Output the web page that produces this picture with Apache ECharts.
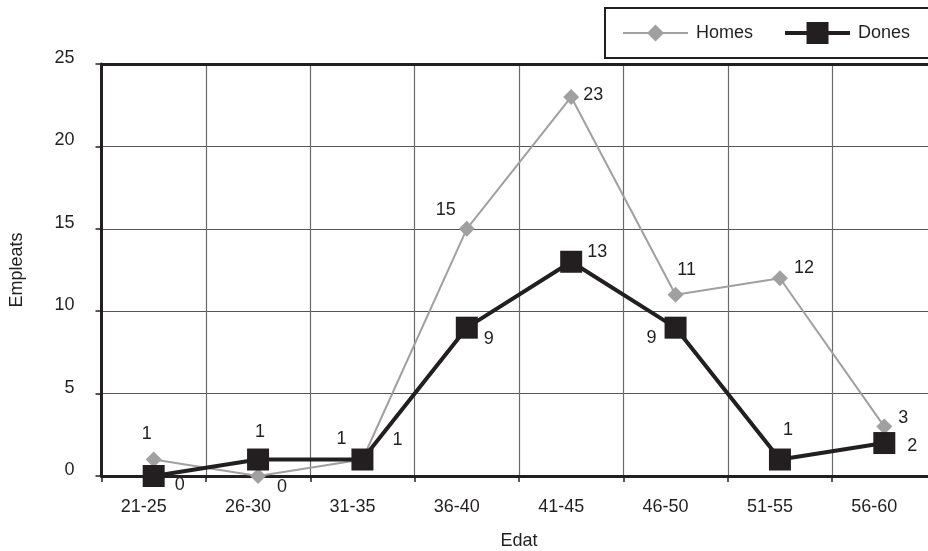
<!DOCTYPE html>
<html>
<head>
<meta charset="utf-8">
<script src="https://cdn.jsdelivr.net/npm/echarts@6/dist/echarts.min.js"></script>
<style>
html,body{margin:0;padding:0;background:#fff;}
#chart{width:928px;height:551px;}
</style>
</head>
<body>
<div id="chart"></div>
<script>
// ---- data ----
var categories = ['21-25', '26-30', '31-35', '36-40', '41-45', '46-50', '51-55', '56-60'];
var homes = [1, 0, 1, 15, 23, 11, 12, 3];
var dones = [0, 1, 1, 9, 13, 9, 1, 2];
var yTicks = [0, 5, 10, 15, 20, 25];

// ---- label placement (style only) ----
var homesLabelOffsets = [[-7,-25],[24,11],[-21,-20],[-21,-19],[22,-2],[11,-25],[24,-10],[19,-9]];
var donesLabelOffsets = [[26,9],[2,-27],[35,-19],[22,11],[26,-10],[-24,10],[8,-29],[28,3]];

var FONT = '"Liberation Sans", Arial, sans-serif';
var INK = '#231f20';
var GRAY = '#a0a0a0';

function withLabels(values, offsets) {
  return values.map(function (v, i) {
    return {
      value: v,
      label: { offset: offsets[i] }
    };
  });
}

var chart = echarts.init(document.getElementById('chart'), null, { renderer: 'canvas' });

var option = {
  backgroundColor: '#ffffff',
  animation: false,
  textStyle: { fontFamily: FONT, color: INK },
  legend: {
    orient: 'horizontal',
    left: 605,
    top: 8,
    width: 400,
    padding: [14, 40, 14, 18],
    itemGap: 32,
    itemWidth: 65,
    itemHeight: 22,
    borderColor: INK,
    borderWidth: 2,
    textStyle: { fontFamily: FONT, fontSize: 18, color: INK, padding: [0, 0, 0, 3] },
    data: [
      {
        name: 'Homes',
        icon: 'path://M0,7.5 L65,7.5 L65,9.5 L0,9.5 Z M32.5,0 L41,8.5 L32.5,17 L24,8.5 Z',
        itemStyle: { color: GRAY, borderWidth: 0 }
      },
      {
        name: 'Dones',
        icon: 'path://M0,9 L65,9 L65,13 L0,13 Z M21.5,0 L43.5,0 L43.5,22 L21.5,22 Z',
        itemStyle: { color: INK, borderWidth: 0 }
      }
    ]
  },
  grid: { left: 101.5, width: 835, top: 64, height: 412, containLabel: false, outerBoundsMode: 'none' },
  xAxis: [
    {
      type: 'category',
      data: categories,
      boundaryGap: true,
      name: 'Edat',
      nameLocation: 'middle',
      nameGap: 56,
      nameTextStyle: { fontFamily: FONT, fontSize: 18, color: INK },
      axisLine: { show: true, lineStyle: { color: INK, width: 3 } },
      axisTick: { show: true, length: 6, lineStyle: { color: INK, width: 1.5 } },
      axisLabel: { fontFamily: FONT, fontSize: 18, color: INK, margin: 22, padding: [0, 20, 0, 0] },
      splitLine: { show: true, lineStyle: { color: '#6a6a6a', width: 1.2 } }
    },
    {
      type: 'category',
      position: 'top',
      data: categories,
      axisLine: { show: true, lineStyle: { color: INK, width: 3 } },
      axisTick: { show: false },
      axisLabel: { show: false },
      splitLine: { show: false }
    }
  ],
  yAxis: {
    type: 'value',
    min: yTicks[0],
    max: yTicks[yTicks.length - 1],
    interval: yTicks[1] - yTicks[0],
    name: 'Empleats',
    nameLocation: 'middle',
    nameRotate: 90,
    nameGap: 75,
    nameTextStyle: { fontFamily: FONT, fontSize: 18, color: INK },
    axisLine: { show: true, lineStyle: { color: INK, width: 3 } },
    axisTick: { show: true, length: 6, lineStyle: { color: INK, width: 1.5 } },
    axisLabel: { fontFamily: FONT, fontSize: 18, color: INK, margin: 27, verticalAlign: 'bottom', lineHeight: 12 },
    splitLine: { show: true, lineStyle: { color: '#555555', width: 1.2 } }
  },
  series: [
    {
      name: 'Homes',
      type: 'line',
      data: withLabels(homes, homesLabelOffsets),
      symbol: 'diamond',
      symbolSize: 16,
      clip: false,
      lineStyle: { color: GRAY, width: 2 },
      itemStyle: { color: GRAY, borderWidth: 0 },
      label: {
        show: true,
        position: 'inside',
        fontFamily: FONT,
        fontSize: 18,
        color: INK,
        textBorderWidth: 0
      },
      z: 2
    },
    {
      name: 'Dones',
      type: 'line',
      data: withLabels(dones, donesLabelOffsets),
      symbol: 'rect',
      symbolSize: 22,
      clip: false,
      lineStyle: { color: INK, width: 4 },
      itemStyle: { color: INK, borderWidth: 0 },
      label: {
        show: true,
        position: 'inside',
        fontFamily: FONT,
        fontSize: 18,
        color: INK,
        textBorderWidth: 0
      },
      z: 3
    }
  ]
};

chart.setOption(option);
</script>
</body>
</html>
